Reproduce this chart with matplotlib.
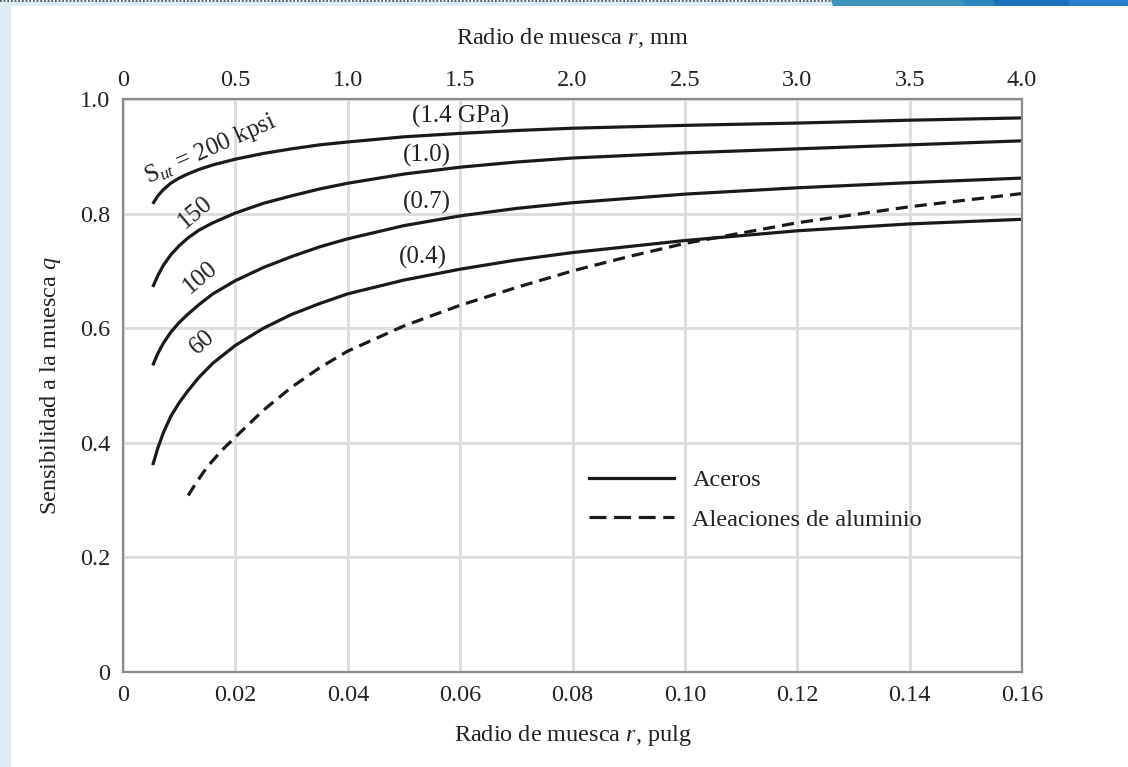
import matplotlib
matplotlib.use("Agg")
import matplotlib.pyplot as plt
from matplotlib.lines import Line2D
from matplotlib.patches import Rectangle, Polygon

# Notch radius (in) and notch sensitivity q for steels of several S_ut
r_steel = [0.0053, 0.0062, 0.0072, 0.0085, 0.0100, 0.0115, 0.0135, 0.0160,
           0.020, 0.025, 0.030, 0.035, 0.040, 0.050, 0.060, 0.070, 0.080,
           0.100, 0.120, 0.140, 0.160]
q_200 = [0.817, 0.831, 0.842, 0.853, 0.862, 0.869, 0.877, 0.885,
         0.895, 0.905, 0.913, 0.920, 0.925, 0.934, 0.940, 0.945, 0.949,
         0.954, 0.958, 0.963, 0.967]
q_150 = [0.672, 0.692, 0.710, 0.728, 0.744, 0.757, 0.771, 0.784,
         0.801, 0.818, 0.831, 0.843, 0.853, 0.869, 0.881, 0.890, 0.897,
         0.906, 0.913, 0.920, 0.927]
q_100 = [0.535, 0.556, 0.574, 0.593, 0.610, 0.624, 0.641, 0.660,
         0.683, 0.706, 0.725, 0.742, 0.756, 0.779, 0.796, 0.809, 0.819,
         0.834, 0.845, 0.854, 0.862]
q_60 = [0.361, 0.391, 0.418, 0.446, 0.470, 0.490, 0.514, 0.539,
        0.570, 0.600, 0.624, 0.643, 0.660, 0.684, 0.703, 0.719, 0.732,
        0.753, 0.770, 0.782, 0.790]

# Aluminium alloys
r_al = [0.0116, 0.013, 0.015, 0.0175, 0.020, 0.025, 0.030, 0.035, 0.040,
        0.050, 0.060, 0.070, 0.080, 0.090, 0.100, 0.120, 0.140, 0.160]
q_al = [0.308, 0.330, 0.358, 0.386, 0.410, 0.457, 0.497, 0.531, 0.560,
        0.604, 0.640, 0.671, 0.700, 0.725, 0.748, 0.784, 0.812, 0.835]

x_ticks = [0, 0.02, 0.04, 0.06, 0.08, 0.10, 0.12, 0.14, 0.16]
x_ticklabels = ["0", "0.02", "0.04", "0.06", "0.08", "0.10", "0.12", "0.14", "0.16"]
mm_ticks = [0, 0.5, 1.0, 1.5, 2.0, 2.5, 3.0, 3.5, 4.0]
mm_ticklabels = ["0", "0.5", "1.0", "1.5", "2.0", "2.5", "3.0", "3.5", "4.0"]
y_ticks = [0, 0.2, 0.4, 0.6, 0.8, 1.0]
y_ticklabels = ["0", "0.2", "0.4", "0.6", "0.8", "1.0"]

plt.rcParams["font.family"] = ["Liberation Serif", "DejaVu Serif"]
plt.rcParams["mathtext.fontset"] = "custom"
plt.rcParams["mathtext.rm"] = "Liberation Serif"
plt.rcParams["mathtext.it"] = "Liberation Serif:italic"

W, H = 1128, 767
fig = plt.figure(figsize=(W / 100, H / 100), dpi=100)
fig.patch.set_facecolor("white")


def fx(px):
    return px / W


def fy(py):
    return 1 - py / H


# page decoration: light strip on the left and top, blue banner at top right
fig.add_artist(Rectangle((0, 0), fx(11), 1, transform=fig.transFigure,
                         facecolor="#dcedf8", edgecolor="none", zorder=0))
fig.add_artist(Rectangle((0, fy(6)), fx(835), fy(0) - fy(6), transform=fig.transFigure,
                         facecolor="#dcedf8", edgecolor="none", zorder=0))
fig.add_artist(Line2D([0, fx(832)], [fy(0.8), fy(0.8)], transform=fig.transFigure,
                      color="#444444", lw=1.2, ls=(0, (1, 1.2)), zorder=1))
bands = [(833, 965, "#3a94bb"), (965, 995, "#2c87c0"),
         (995, 1070, "#1b73bf"), (1070, 1128, "#2a80cf")]
for x0, x1, c in bands:
    fig.add_artist(Polygon([(fx(x0), fy(6)), (fx(x0 - 2), fy(0)), (fx(x1 + 1), fy(0)),
                            (fx(x1 + 1), fy(6))], closed=True, transform=fig.transFigure,
                           facecolor=c, edgecolor="none", zorder=1))

ax = fig.add_axes([fx(123), fy(672), fx(1022) - fx(123), fy(99) - fy(672)])
ax.set_xlim(0, 0.16)
ax.set_ylim(0, 1.0)
ax.set_axisbelow(True)
ax.grid(True, color="#dedede", lw=2.2)
for s in ax.spines.values():
    s.set_color("#8c8c8c")
    s.set_linewidth(1.6)

fs = 17.5
ax.set_xticks(x_ticks)
ax.set_xticklabels(x_ticklabels)
ax.set_yticks(y_ticks)
ax.set_yticklabels(y_ticklabels)
ax.tick_params(axis="both", length=0, labelsize=fs, colors="#222222")
ax.tick_params(axis="x", pad=9.5)
ax.tick_params(axis="y", pad=9)

sec = ax.secondary_xaxis("top", functions=(lambda x: x * 25.0, lambda m: m / 25.0))
sec.set_xticks(mm_ticks)
sec.set_xticklabels(mm_ticklabels)
sec.tick_params(length=0, labelsize=fs, pad=6, colors="#222222")
sec.spines["top"].set_visible(False)
fig.text(fx(572), fy(38), "Radio de muesca $r$, mm", fontsize=fs, color="#222222",
         ha="center", va="center")

ax.set_xlabel("Radio de muesca $r$, pulg", fontsize=fs, labelpad=12, color="#222222")
ax.set_ylabel("Sensibilidad a la muesca $q$", fontsize=fs, labelpad=12, color="#222222")

lw = 2.3
for q in (q_200, q_150, q_100, q_60):
    ax.plot(r_steel, q, color="#1a1a1a", lw=lw, solid_capstyle="butt",
            solid_joinstyle="round")
ax.plot(r_al, q_al, color="#1a1a1a", lw=lw, ls=(0, (3.8, 2.2)))

# curve labels
lab_kw = dict(fontsize=18, color="#222222", ha="center", va="center",
              rotation_mode="anchor")
ax.text(0.0155, 0.913, "S$_{ut}$ = 200 kpsi", rotation=24, **lab_kw)
ax.text(0.0128, 0.803, "150", rotation=40, **lab_kw)
ax.text(0.0138, 0.688, "100", rotation=40, **lab_kw)
ax.text(0.0141, 0.575, "60", rotation=41, **lab_kw)
ax.text(0.0600, 0.970, "(1.4 GPa)", **lab_kw)
ax.text(0.0541, 0.901, "(1.0)", **lab_kw)
ax.text(0.0541, 0.819, "(0.7)", **lab_kw)
ax.text(0.0534, 0.723, "(0.4)", **lab_kw)

handles = [Line2D([], [], color="#1a1a1a", lw=lw),
           Line2D([], [], color="#1a1a1a", lw=lw, ls=(0, (5.3, 2.4)))]
ax.legend(handles, ["Aceros", "Aleaciones de aluminio"], loc="upper left",
          bbox_to_anchor=((589 - 123) / 899, (672 - 469) / 574), frameon=False,
          fontsize=fs, handlelength=3.5, handletextpad=0.75, labelspacing=0.71,
          borderpad=0, borderaxespad=0, labelcolor="#222222")

fig.savefig("out.png", dpi=100)
